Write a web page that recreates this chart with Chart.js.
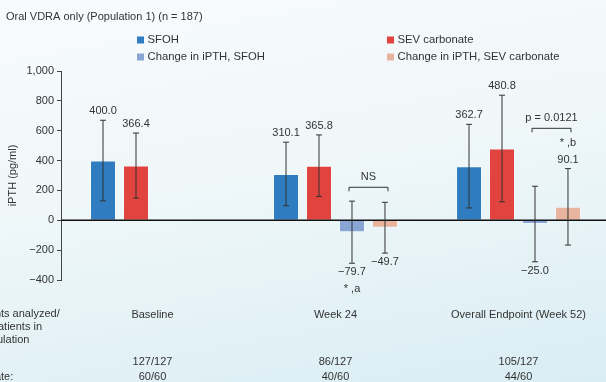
<!DOCTYPE html>
<html><head><meta charset="utf-8">
<script src="https://cdn.jsdelivr.net/npm/chart.js@4/dist/chart.umd.min.js"></script>
<style>
html,body{margin:0;padding:0;width:606px;height:382px;overflow:hidden;}
body{background:linear-gradient(170deg,#f8fbfc 0%,#eff7f9 45%,#d9edf4 100%);position:relative;}
#wrap{position:absolute;left:-60px;top:0;width:680px;height:382px;}
</style></head><body>
<div id="wrap"><canvas id="c" width="680" height="382"></canvas></div>
<script>
const titleText = "Oral VDRA only (Population 1) (n = 187)";
const categories = ["Baseline", "Week 24", "Overall Endpoint (Week 52)"];
const seriesNames = ["SFOH", "SEV carbonate", "Change in iPTH, SFOH", "Change in iPTH, SEV carbonate"];
const seriesColors = ["#2f7cc0", "#e1443f", "#88a5d6", "#e8b39f"];
const sfoh = [400.0, 310.1, 362.7];
const sev = [366.4, 365.8, 480.8];
const chgSfoh = [null, -79.7, -25.0];
const chgSev = [null, -49.7, 90.1];
const sfohErr = [270, 213, 280];
const sevErr = [218, 206, 357];
const chgSfohErr = [null, 208, 253];
const chgSevErr = [null, 170, 256];
const yTicks = [-400, -200, 0, 200, 400, 600, 800, 1000];
const yTitle = "iPTH (pg/ml)";
const nSfoh = ["127/127", "86/127", "105/127"];
const nSev = ["60/60", "40/60", "44/60"];
const rowLabels = ["Patients analyzed/", "total patients in", "population", "SFOH:", "SEV carbonate:"];
const comparisons = [
  {cat: 1, value: 221, text: "NS"},
  {cat: 2, value: 616, text: "p = 0.0121"}
];
const footnotes = [
  {cat: 1, series: 2, text: "* ,a"},
  {cat: 2, series: 3, text: "* ,b"}
];

const OFF = 60;
const FONT = '"Liberation Sans", Arial, sans-serif';
const TXT = '#333';
const values = [sfoh, sev, chgSfoh, chgSev];
const errs = [sfohErr, sevErr, chgSfohErr, chgSevErr];

function fmt(v){ return (v < 0 ? '\u2212' : '') + Math.abs(v).toFixed(1); }

const overlay = {
  id: 'overlay',
  afterDatasetsDraw(chart) {
    const ctx = chart.ctx, ys = chart.scales.y, ca = chart.chartArea;
    ctx.save();
    const y0 = ys.getPixelForValue(0);
    ctx.strokeStyle = '#111'; ctx.lineWidth = 1.4;
    ctx.beginPath(); ctx.moveTo(ca.left, y0); ctx.lineTo(ca.right, y0); ctx.stroke();
    ctx.font = '11px ' + FONT; ctx.fillStyle = TXT; ctx.textAlign = 'center'; ctx.textBaseline = 'middle';
    const ends = [];
    values.forEach((arr, i) => {
      const meta = chart.getDatasetMeta(i);
      ends.push([]);
      arr.forEach((v, j) => {
        if (v === null) { ends[i].push(null); return; }
        const bx = meta.data[j].x;
        const e = errs[i][j];
        const top = ys.getPixelForValue(v + e), bot = ys.getPixelForValue(v - e);
        ctx.strokeStyle = '#333'; ctx.lineWidth = 1;
        ctx.beginPath();
        ctx.moveTo(bx, top); ctx.lineTo(bx, bot);
        ctx.moveTo(bx - 3, top); ctx.lineTo(bx + 3, top);
        ctx.moveTo(bx - 3, bot); ctx.lineTo(bx + 3, bot);
        ctx.stroke();
        ends[i].push({x: bx, top, bot, v});
        if (v >= 0) ctx.fillText(fmt(v), bx, top - 9);
        else ctx.fillText(fmt(v), bx, bot + 9);
      });
    });
    comparisons.forEach(c => {
      const a = ends[2][c.cat].x - 3, b = ends[3][c.cat].x + 3;
      const yy = ys.getPixelForValue(c.value);
      ctx.strokeStyle = '#333'; ctx.lineWidth = 1;
      ctx.beginPath();
      ctx.moveTo(a, yy + 4); ctx.lineTo(a, yy); ctx.lineTo(b, yy); ctx.lineTo(b, yy + 4);
      ctx.stroke();
      ctx.fillText(c.text, (a + b) / 2, yy - 10);
    });
    footnotes.forEach(f => {
      const p = ends[f.series][f.cat];
      const yy = p.v >= 0 ? p.top - 26 : p.bot + 26;
      ctx.fillText(f.text, p.x, yy);
    });
    ctx.restore();
  },
  afterDraw(chart) {
    const ctx = chart.ctx, xs = chart.scales.x;
    ctx.save();
    ctx.fillStyle = TXT; ctx.textBaseline = 'middle';
    ctx.font = '11px ' + FONT; ctx.textAlign = 'left';
    ctx.fillText(titleText, OFF + 6, 17);
    const lg = [[137, 40], [387, 40], [137, 57], [387, 57]];
    ctx.font = '11.3px ' + FONT;
    seriesNames.forEach((n, i) => {
      ctx.fillStyle = seriesColors[i];
      ctx.fillRect(OFF + lg[i][0], lg[i][1] - 3.5, 7, 7);
      ctx.fillStyle = TXT;
      ctx.fillText(n, OFF + lg[i][0] + 10.5, lg[i][1]);
    });
    ctx.font = '11px ' + FONT;
    const crops = ["Patien", "total p", "pop", null, "SEV carbona"];
    const extra = [0, -3, -4, 0, 0];
    const rowY = [314, 327, 340, 362, 377];
    rowLabels.forEach((t, i) => {
      const x = crops[i] ? OFF + 1 - ctx.measureText(crops[i]).width + extra[i] : 2;
      ctx.fillText(t, x, rowY[i]);
    });
    ctx.textAlign = 'center';
    categories.forEach((c, j) => {
      const cx = xs.getPixelForValue(j);
      ctx.fillText(nSfoh[j], cx, 362);
      ctx.fillText(nSev[j], cx, 377);
    });
    ctx.restore();
  }
};

new Chart(document.getElementById('c'), {
  type: 'bar',
  data: {
    labels: categories,
    datasets: seriesNames.map((n, i) => ({
      label: n, data: values[i], backgroundColor: seriesColors[i],
      borderColor: 'rgba(255,255,255,0.35)', borderWidth: 1,
      categoryPercentage: 0.721, barPercentage: 0.788
    }))
  },
  options: {
    responsive: false, animation: false, devicePixelRatio: 1,
    layout: {padding: {left: 60, right: 10, top: 71, bottom: 0}},
    plugins: {legend: {display: false}, tooltip: {enabled: false}},
    scales: {
      x: {
        grid: {display: false, drawTicks: false}, border: {display: false},
        ticks: {color: TXT, font: {family: FONT, size: 11}, padding: 28, maxRotation: 0, autoSkip: false},
        afterFit(s) { s.height = 102; }
      },
      y: {
        min: -400, max: 1000,
        afterBuildTicks(s) { s.ticks = yTicks.map(v => ({value: v})); },
        grid: {display: true, drawOnChartArea: false, tickLength: 4, color: '#444', lineWidth: 1},
        border: {display: true, color: '#444', width: 1},
        ticks: {color: TXT, font: {family: FONT, size: 11}, padding: 3,
          callback: v => (v < 0 ? '\u2212' : '') + Math.abs(v).toLocaleString('en-US')},
        title: {display: true, text: yTitle, color: TXT, font: {family: FONT, size: 11}, padding: {top: 6, bottom: 0}},
        afterFit(s) { s.width = 61; }
      }
    }
  },
  plugins: [overlay]
});
</script>
</body></html>
